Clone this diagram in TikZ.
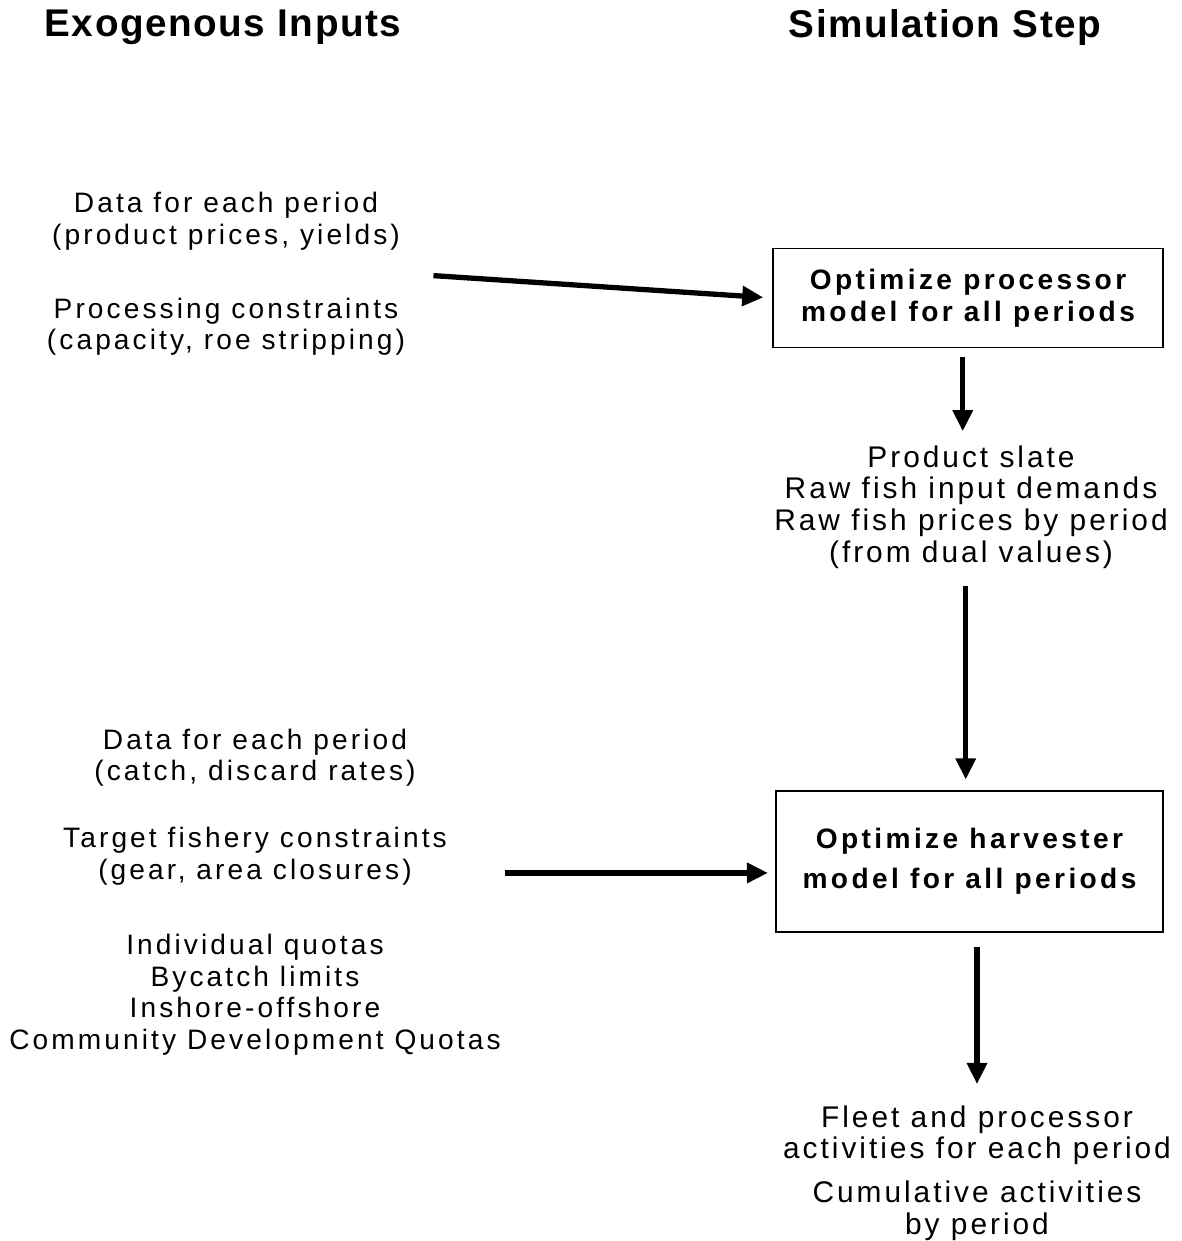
\documentclass[tikz,border=0pt]{standalone}
\usepackage{fontspec}
\setmainfont{Liberation Sans}[LetterSpace=11]
\usetikzlibrary{arrows.meta,positioning,calc}
\tikzset{
  hdr/.style={font=\fontsize{22pt}{26pt}\selectfont\bfseries\addfontfeatures{LetterSpace=4},inner sep=0pt},
  txt/.style={font=\fontsize{16pt}{18pt}\selectfont,align=center,inner sep=2pt},
  res/.style={font=\fontsize{17pt}{18pt}\selectfont\addfontfeatures{LetterSpace=10},align=center,inner sep=2pt},
  mdl/.style={draw=black,line width=1.1pt,font=\fontsize{16pt}{18pt}\selectfont\bfseries\addfontfeatures{LetterSpace=12},
              align=center,inner sep=4pt},
  arr/.style={-{Triangle[length=12pt,width=11pt]},line width=3pt},
}
\begin{document}
\begin{tikzpicture}[x=0.02cm,y=-0.02cm]
  \useasboundingbox (0,0) rectangle (1181,1241);
  % column heads
  \node[hdr] (hin)  at (223,27) {Exogenous Inputs};
  \node[hdr] (hsim) at (945,28) {Simulation Step};
  % processor step
  \node[txt] (inproc) at (226,274) {Data for each period\\(product prices, yields)\\[24pt]
        Processing constraints\\(capacity, roe stripping)};
  \node[mdl,minimum width=7.8cm,minimum height=1.98cm] (proc) at (968,298)
        {Optimize processor\\model for all periods};
  \node[res] (out1) at (971,507) {Product slate\\Raw fish input demands\\
        Raw fish prices by period\\(from dual values)};
  % harvester step
  \node[txt] (inharv) at (255,892) {Data for each period\\(catch, discard rates)\\[20pt]
        Target fishery constraints\\(gear, area closures)\\[25pt]
        Individual quotas\\Bycatch limits\\Inshore-offshore\\Community Development Quotas};
  \node[mdl,minimum width=7.74cm,minimum height=2.82cm] (harv) at (969.5,861.5)
        {Optimize harvester\\[5pt]model for all periods};
  \node[res] (out2) at (977,1173) {Fleet and processor\\activities for each period\\[7pt]
        Cumulative activities\\by period};
  % connectors
  \draw[arr,shorten <=14pt,shorten >=5pt] (inproc.east) -- (proc.west);
  \draw[arr,shorten <=5pt,shorten >=6pt] ([xshift=-3pt]proc.south) -- ([xshift=-3pt]proc.south |- out1.north);
  \draw[arr,shorten <=8pt,shorten >=6pt] ([xshift=-3pt]out1.south) -- ([xshift=-3pt]out1.south |- harv.north);
  \draw[arr,shorten >=4pt] ([yshift=-6.5pt]harv.west -| inharv.east) -- ([yshift=-6.5pt]harv.west);
  \draw[arr,shorten <=8pt,shorten >=10pt] (out2.north |- harv.south) -- (out2.north);
\end{tikzpicture}
\end{document}
